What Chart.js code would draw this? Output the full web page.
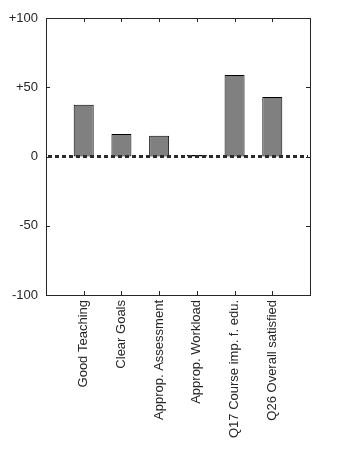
<!DOCTYPE html>
<html>
<head>
<meta charset="utf-8">
<script src="https://cdn.jsdelivr.net/npm/chart.js@4"></script>
<style>
  body { margin: 0; background: #fff; }
</style>
</head>
<body>
<canvas id="scoreChart" width="354" height="472"></canvas>
<script>
// survey scale scores per item
const categories = ["Good Teaching", "Clear Goals", "Approp. Assessment", "Approp. Workload", "Q17 Course imp. f. edu.", "Q26 Overall satisfied"];
const scores = [37.3, 16.3, 14.9, 1, 58.9, 43];
const yTicks = [-100, -50, 0, 50, 100];

// empty slot at each end so the bars sit at 1..6 on a 0..7 axis
const labels = ["", ...categories, ""];
const values = [null, ...scores, null];

const axisColor = "#262626";
const tickFont = { family: "'Liberation Sans', Arial, sans-serif", size: 13 };

// box around the plot, inward ticks and the dotted zero line
const frame = {
  id: "frame",
  afterDraw(chart) {
    const { ctx, chartArea: a, scales } = chart;
    ctx.save();
    ctx.strokeStyle = axisColor;
    ctx.lineWidth = 1;
    ctx.strokeRect(a.left + 0.5, a.top + 0.5, a.right - a.left, a.bottom - a.top);

    ctx.beginPath();
    yTicks.forEach((v) => {
      const py = Math.round(scales.y.getPixelForValue(v)) + 0.5;
      ctx.moveTo(a.left, py); ctx.lineTo(a.left + 4, py);
      ctx.moveTo(a.right, py); ctx.lineTo(a.right - 4, py);
    });
    categories.forEach((c, i) => {
      const px = Math.round(scales.x.getPixelForValue(i + 1)) + 0.5;
      ctx.moveTo(px, a.bottom); ctx.lineTo(px, a.bottom - 4);
      ctx.moveTo(px, a.top); ctx.lineTo(px, a.top + 4);
    });
    ctx.stroke();

    const y0 = scales.y.getPixelForValue(0);
    ctx.beginPath();
    ctx.setLineDash([4, 3]);
    ctx.lineWidth = 3;
    ctx.strokeStyle = "#2b2b2b";
    ctx.moveTo(a.left + 2, y0);
    ctx.lineTo(a.right - 2, y0);
    ctx.stroke();
    ctx.restore();
  }
};

new Chart(document.getElementById("scoreChart"), {
  type: "bar",
  data: {
    labels: labels,
    datasets: [{
      data: values,
      backgroundColor: "#808080",
      borderColor: "#000000",
      borderWidth: 1,
      borderSkipped: false,
      barPercentage: 0.53,
      categoryPercentage: 1
    }]
  },
  options: {
    responsive: false,
    animation: false,
    layout: { padding: { top: 18, right: 44, left: 0, bottom: 0 } },
    plugins: { legend: { display: false }, tooltip: { enabled: false } },
    scales: {
      x: {
        offset: false,
        grid: { display: false, drawTicks: false },
        border: { display: false },
        afterFit: (s) => { s.height = 177; },
        ticks: {
          autoSkip: false,
          minRotation: 90,
          maxRotation: 90,
          padding: 5,
          color: axisColor,
          font: tickFont
        }
      },
      y: {
        min: -100,
        max: 100,
        grid: { display: false, drawTicks: false },
        border: { display: false },
        afterFit: (s) => { s.width = 46; },
        afterBuildTicks: (s) => { s.ticks = yTicks.map((v) => ({ value: v })); },
        ticks: {
          padding: 8,
          color: axisColor,
          font: tickFont,
          callback: (v) => (v > 0 ? "+" + v : String(v))
        }
      }
    }
  },
  plugins: [frame]
});
</script>
</body>
</html>
